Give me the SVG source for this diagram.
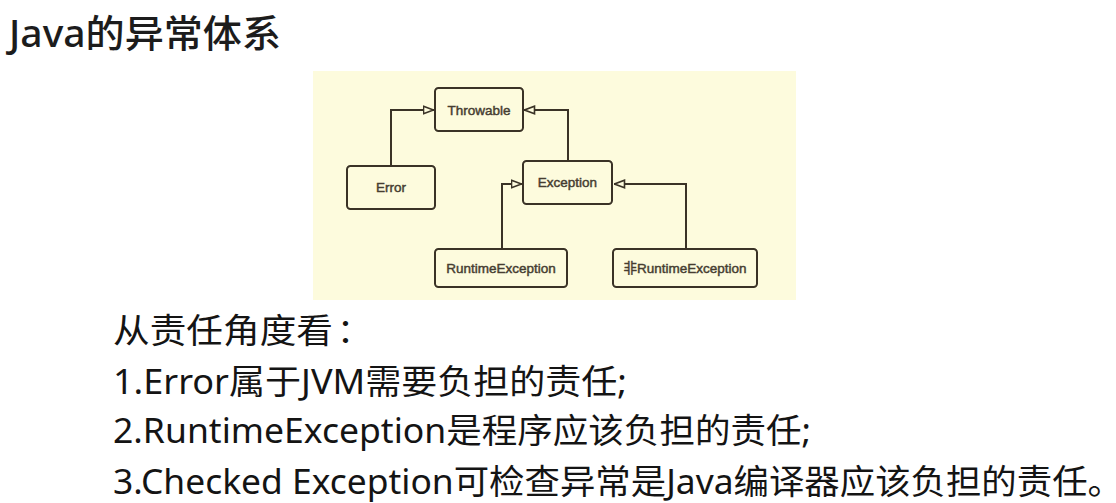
<svg xmlns="http://www.w3.org/2000/svg" width="1116" height="503" viewBox="0 0 1116 503">
  <style>
    .title { font-family: "Noto Sans", "Noto Sans CJK SC", sans-serif; font-size: 38px; font-weight: 500; fill: #1c1c1c; }
    .body { font-family: "Noto Sans", "Noto Sans CJK SC", sans-serif; font-size: 34px; fill: #141414; }
    .box { fill: #fdfbdd; stroke: #3a3226; stroke-width: 2; }
    .lbl { font-family: "Liberation Sans", "Noto Sans CJK SC", sans-serif; font-size: 13.5px; fill: #463d31; stroke: #463d31; stroke-width: 0.45; text-anchor: middle; }
    .conn { fill: none; stroke: #3a3226; stroke-width: 2; }
  </style>
  <defs>
    <marker id="tri" viewBox="0 0 12 10" markerWidth="12" markerHeight="10" refX="11.5" refY="5" orient="auto" markerUnits="userSpaceOnUse">
      <path d="M1,1.2 L11,5 L1,8.8 Z" fill="#fdfbdd" stroke="#3a3226" stroke-width="1.6" stroke-linejoin="miter"/>
    </marker>
  </defs>
  <rect width="1116" height="503" fill="#ffffff"/>
  <text class="title" x="9" y="47" textLength="272" lengthAdjust="spacingAndGlyphs">Java的异常体系</text>

  <rect x="313" y="71" width="483" height="229" fill="#fdfbdd"/>

  <g id="connectors">
    <path class="conn" d="M391,166 V110 H434" marker-end="url(#tri)"/>
    <path class="conn" d="M568,161 V110 H524" marker-end="url(#tri)"/>
    <path class="conn" d="M502,249 V184 H522" marker-end="url(#tri)"/>
    <path class="conn" d="M686,249 V184 H614" marker-end="url(#tri)"/>
  </g>

  <g id="throwable">
    <rect class="box" x="435" y="88" width="88" height="43" rx="3.5"/>
    <text class="lbl" x="479" y="114.5">Throwable</text>
  </g>
  <g id="error">
    <rect class="box" x="347" y="166" width="88" height="43" rx="3.5"/>
    <text class="lbl" x="391" y="192">Error</text>
  </g>
  <g id="exception">
    <rect class="box" x="523" y="161" width="89" height="43" rx="3.5"/>
    <text class="lbl" x="567.5" y="187">Exception</text>
  </g>
  <g id="runtime-exception">
    <rect class="box" x="435" y="249" width="132" height="38" rx="3.5"/>
    <text class="lbl" x="501" y="272.5">RuntimeException</text>
  </g>
  <g id="non-runtime-exception">
    <rect class="box" x="613" y="249" width="144" height="38" rx="3.5"/>
    <text class="lbl" x="685" y="272.5">非RuntimeException</text>
  </g>

  <text class="body" x="113" y="343" textLength="220" lengthAdjust="spacingAndGlyphs">从责任角度看</text>
  <text class="body" x="337" y="343">：</text>
  <text class="body" x="113" y="394" textLength="514" lengthAdjust="spacingAndGlyphs">1.Error属于JVM需要负担的责任;</text>
  <text class="body" x="113" y="443" textLength="698" lengthAdjust="spacingAndGlyphs">2.RuntimeException是程序应该负担的责任;</text>
  <text class="body" x="113" y="494" textLength="1010" lengthAdjust="spacingAndGlyphs">3.Checked Exception可检查异常是Java编译器应该负担的责任。</text>
</svg>
